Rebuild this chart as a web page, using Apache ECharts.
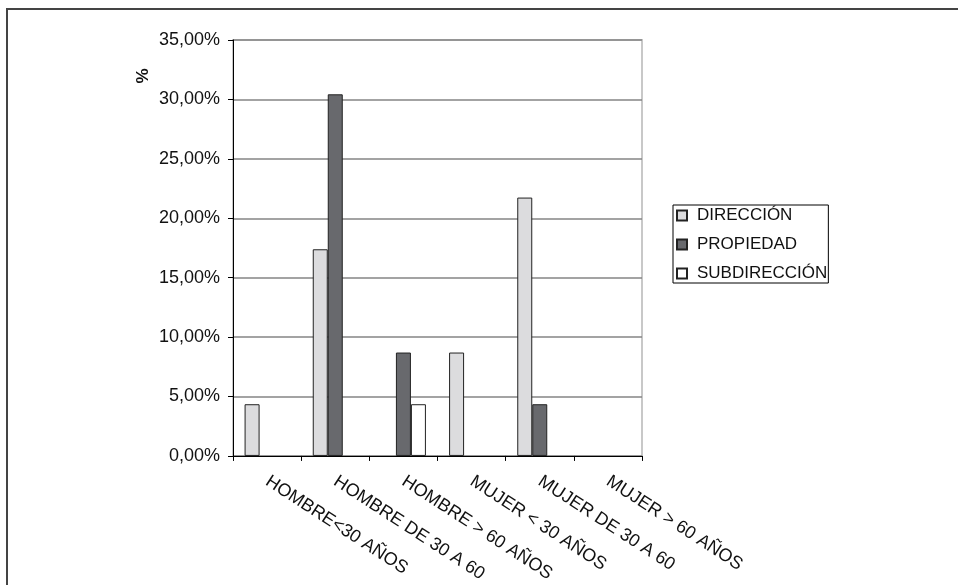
<!DOCTYPE html>
<html>
<head>
<meta charset="utf-8">
<script src="https://cdn.jsdelivr.net/npm/echarts@6/dist/echarts.min.js"></script>
<style>
  html, body { margin: 0; padding: 0; background: #fff; }
  #chart { width: 958px; height: 585px; }
</style>
</head>
<body>
<div id="chart"></div>
<script>
// Age/sex groups on the horizontal axis
const categories = [
  'HOMBRE<30 AÑOS',
  'HOMBRE DE 30 A 60',
  'HOMBRE > 60 AÑOS',
  'MUJER < 30 AÑOS',
  'MUJER DE 30 A 60',
  'MUJER > 60 AÑOS'
];

// Share of each role per group (%)
const direccion    = [4.35, 17.39, 0, 8.70, 21.74, 0];
const propiedad    = [0, 30.43, 8.70, 0, 4.35, 0];
const subdireccion = [0, 0, 4.35, 0, 0, 0];

const seriesNames = ['DIRECCIÓN', 'PROPIEDAD', 'SUBDIRECCIÓN'];

const FONT = '"Liberation Sans", Arial, sans-serif';

const chart = echarts.init(document.getElementById('chart'), null, { renderer: 'canvas' });

// Zero values keep their slot but get no outline, so nothing shows at the baseline
function barSeries(name, data, fill) {
  return {
    name: name,
    type: 'bar',
    data: data.map(v => v === 0 ? { value: v, itemStyle: { borderWidth: 0, opacity: 0 } } : v),
    barWidth: 15,
    barGap: '0%',
    itemStyle: { color: fill, borderColor: '#222', borderWidth: 1 },
    emphasis: { disabled: true },
    silent: true
  };
}

chart.setOption({
  animation: false,
  backgroundColor: '#ffffff',
  grid: {
    left: 233, right: 316, top: 40, bottom: 129,
    show: true, borderColor: '#c8c8c8', borderWidth: 2, backgroundColor: 'transparent'
  },
  legend: {
    orient: 'vertical',
    left: 673, top: 205,
    data: seriesNames,
    itemWidth: 10, itemHeight: 10,
    itemGap: 12,
    padding: [2, 1, 1, 3],
    borderColor: '#000', borderWidth: 1,
    selectedMode: false,
    icon: 'rect',
    textStyle: { fontFamily: FONT, fontSize: 17, color: '#111', lineHeight: 17, padding: [0, 0, 0, 5] }
  },
  xAxis: {
    type: 'category',
    data: categories,
    axisLine: { lineStyle: { color: '#000', width: 1 } },
    axisTick: { show: true, length: 5, lineStyle: { color: '#000' } },
    axisLabel: {
      rotate: -33, margin: 24, interval: 0,
      fontFamily: FONT, fontSize: 18, color: '#111'
    }
  },
  yAxis: {
    type: 'value',
    min: 0, max: 35, interval: 5,
    axisLine: { show: true, lineStyle: { color: '#000', width: 1 } },
    axisTick: { show: true, length: 5, lineStyle: { color: '#000' } },
    splitLine: { lineStyle: { color: '#858585', width: 1.5 } },
    axisLabel: {
      margin: 13,
      fontFamily: FONT, fontSize: 18, color: '#111',
      formatter: v => v.toFixed(2).replace('.', ',') + '%'
    }
  },
  series: [
    barSeries(seriesNames[0], direccion, '#dcdcde'),
    barSeries(seriesNames[1], propiedad, '#68696d'),
    barSeries(seriesNames[2], subdireccion, '#ffffff')
  ],
  graphic: [
    {
      type: 'rect',
      shape: { x: 7, y: 9, width: 1200, height: 1000 },
      style: { fill: 'none', stroke: '#444', lineWidth: 2 },
      silent: true
    },
    {
      type: 'text',
      x: 143, y: 76,
      rotation: Math.PI / 2,
      style: {
        text: '%', fontFamily: FONT, fontSize: 17, fontWeight: 'bold', fill: '#111',
        align: 'center', verticalAlign: 'middle'
      },
      silent: true
    }
  ]
});
</script>
</body>
</html>
